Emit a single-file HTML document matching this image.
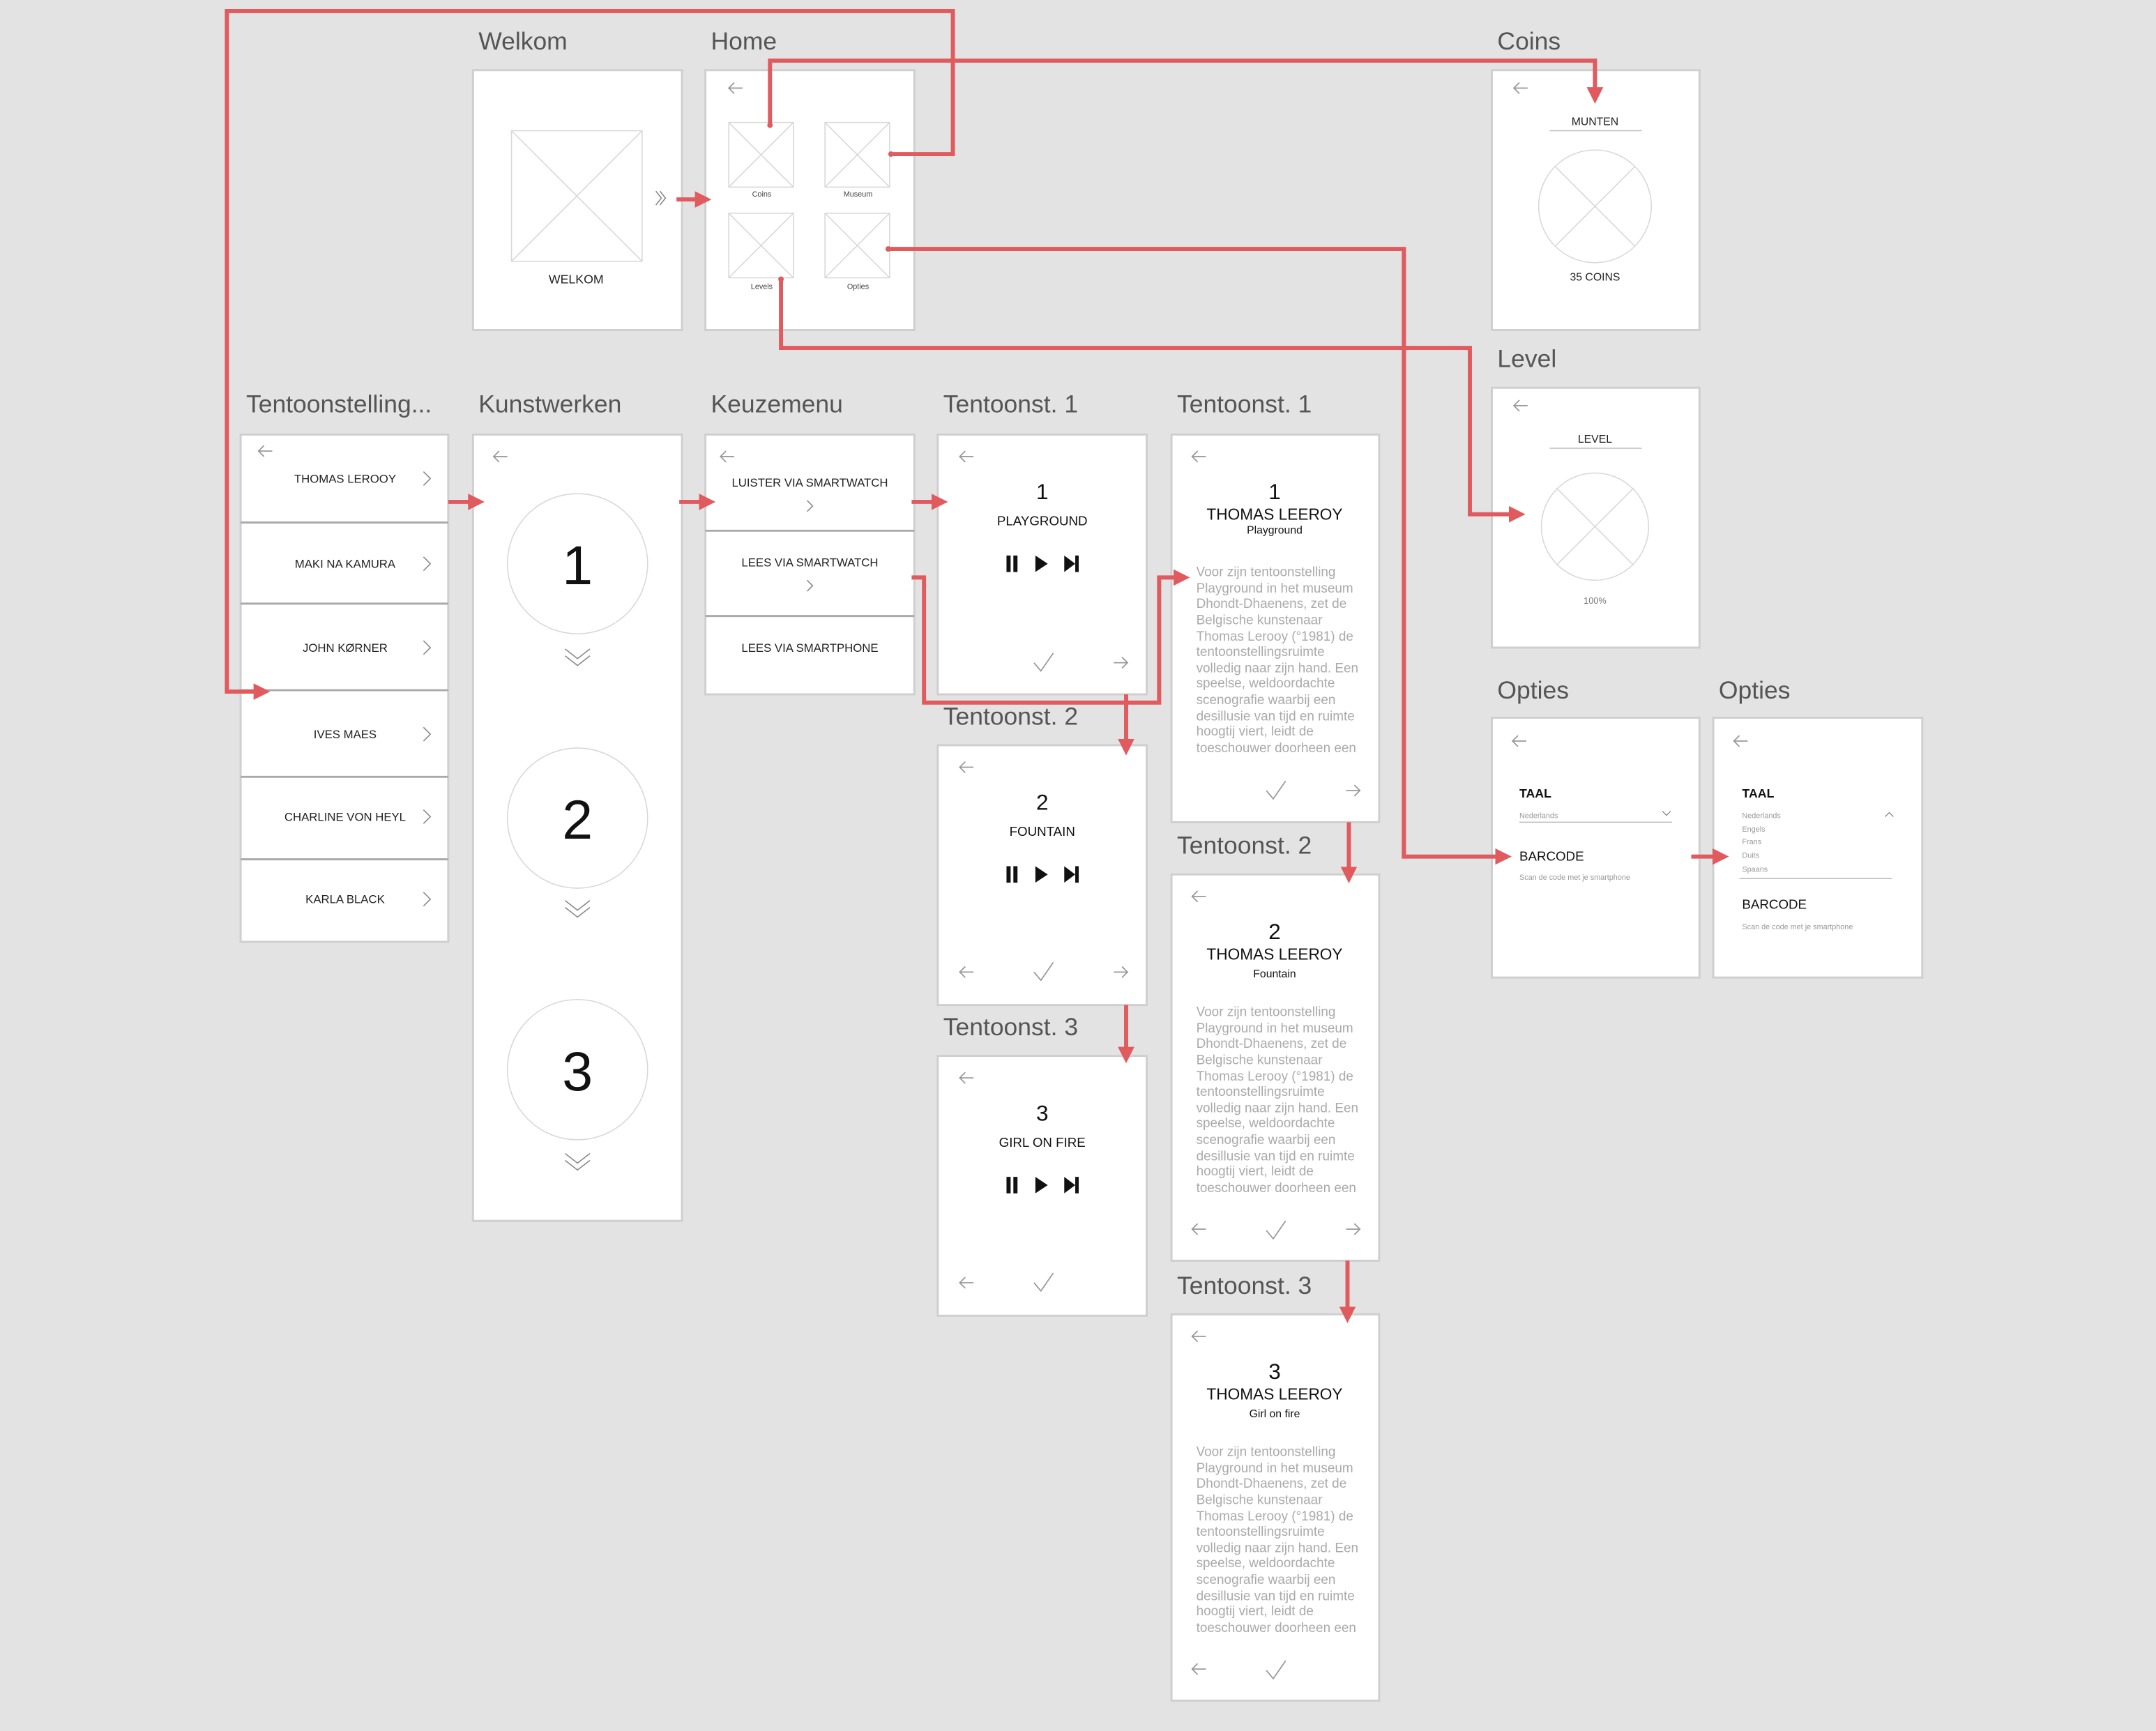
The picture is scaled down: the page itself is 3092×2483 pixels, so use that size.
<!DOCTYPE html>
<html><head><meta charset="utf-8"><style>
html,body{margin:0;padding:0;background:#e3e3e3;}
svg{display:block}
text{font-family:"Liberation Sans",sans-serif;}
</style></head><body>
<svg width="3092" height="2483" viewBox="0 0 1568 1259" xmlns="http://www.w3.org/2000/svg">
<defs>
<marker id="ah" markerWidth="4" markerHeight="4" refX="2.2" refY="2" orient="auto" markerUnits="strokeWidth">
<path d="M0,0 L4,2 L0,4 z" fill="#e05a5e"/></marker>
</defs>
<rect width="1568" height="1259" fill="#e3e3e3"/>

<!-- titles -->
<g font-size="18" fill="#555">
<text x="348" y="36">Welkom</text>
<text x="517" y="36">Home</text>
<text x="1089" y="36">Coins</text>
<text x="1089" y="267">Level</text>
<text x="1089" y="508">Opties</text>
<text x="1250" y="508">Opties</text>
<text x="179" y="300">Tentoonstelling...</text>
<text x="348" y="300">Kunstwerken</text>
<text x="517" y="300">Keuzemenu</text>
<text x="686" y="300">Tentoonst. 1</text>
<text x="856" y="300">Tentoonst. 1</text>
<text x="686" y="527">Tentoonst. 2</text>
<text x="686" y="753">Tentoonst. 3</text>
<text x="856" y="621">Tentoonst. 2</text>
<text x="856" y="941">Tentoonst. 3</text>
</g>

<!-- frames -->
<g fill="#fff" stroke="#cfcfcf" stroke-width="1.5">
<rect x="344" y="51" width="152" height="189"/>
<rect x="513" y="51" width="152" height="189"/>
<rect x="1085" y="51" width="151" height="189"/>
<rect x="1085" y="282" width="151" height="189"/>
<rect x="1085" y="522" width="151" height="189"/>
<rect x="1246" y="522" width="152" height="189"/>
<rect x="175" y="316" width="151" height="369"/>
<rect x="344" y="316" width="152" height="572"/>
<rect x="513" y="316" width="152" height="189"/>
<rect x="682" y="316" width="152" height="189"/>
<rect x="682" y="542" width="152" height="189"/>
<rect x="682" y="768" width="152" height="189"/>
<rect x="852" y="316" width="151" height="282"/>
<rect x="852" y="636" width="151" height="281"/>
<rect x="852" y="956" width="151" height="281"/>
</g>

<!-- back arrows -->
<g stroke="#999" stroke-width="0.9" fill="none">
<path d="M530 64h10M534 60l-4 4 4 4"/>
<path d="M1101 64h10M1105 60l-4 4 4 4"/>
<path d="M1101 295h10M1105 291l-4 4 4 4"/>
<path d="M1100 539h10M1104 535l-4 4 4 4"/>
<path d="M1261 539h10M1265 535l-4 4 4 4"/>
<path d="M188 328h10M192 324l-4 4 4 4"/>
<path d="M359 332h10M363 328l-4 4 4 4"/>
<path d="M524 332h10M528 328l-4 4 4 4"/>
<path d="M698 332h10M702 328l-4 4 4 4"/>
<path d="M698 558h10M702 554l-4 4 4 4"/>
<path d="M698 784h10M702 780l-4 4 4 4"/>
<path d="M867 332h10M871 328l-4 4 4 4"/>
<path d="M867 652h10M871 648l-4 4 4 4"/>
<path d="M867 972h10M871 968l-4 4 4 4"/>
<!-- left bottom arrows -->
<path d="M698 707h10M702 703l-4 4 4 4"/>
<path d="M698 933h10M702 929l-4 4 4 4"/>
<path d="M867 894h10M871 890l-4 4 4 4"/>
<path d="M867 1214h10M871 1210l-4 4 4 4"/>
<!-- right bottom arrows -->
<path d="M810 482h10M816 478l4 4-4 4"/>
<path d="M810 707h10M816 703l4 4-4 4"/>
<path d="M979 575h10M985 571l4 4-4 4"/>
<path d="M979 894h10M985 890l4 4-4 4"/>
<!-- checks -->
<path d="M752 482l5 6 9-13"/>
<path d="M752 707l5 6 9-13"/>
<path d="M752 933l5 6 9-13"/>
<path d="M921 575l5 6 9-13"/>
<path d="M921 895l5 6 9-13"/>
<path d="M921 1215l5 6 9-13"/>
</g>

<!-- Welkom -->
<g stroke="#d8d8d8" stroke-width="0.8" fill="none">
<rect x="372" y="95" width="95" height="95"/><path d="M372 95L467 190M467 95L372 190"/>
<rect x="530" y="89" width="47" height="47"/><path d="M530 89l47 47M577 89l-47 47"/>
<rect x="600" y="89" width="47" height="47"/><path d="M600 89l47 47M647 89l-47 47"/>
<rect x="530" y="155" width="47" height="47"/><path d="M530 155l47 47M577 155l-47 47"/>
<rect x="600" y="155" width="47" height="47"/><path d="M600 155l47 47M647 155l-47 47"/>
<circle cx="1160" cy="150" r="41"/><path d="M1131 121l58 58M1189 121l-58 58"/>
<circle cx="1160" cy="383" r="39"/><path d="M1132 355l56 56M1188 355l-56 56"/>
<circle cx="420" cy="410" r="51"/><circle cx="420" cy="595" r="51"/><circle cx="420" cy="778" r="51"/>
</g>
<path d="M477 139l4 5-4 5M480 139l4 5-4 5" stroke="#888" stroke-width="0.8" fill="none"/>
<text x="419" y="206" font-size="9" text-anchor="middle" fill="#222">WELKOM</text>
<g font-size="5.5" fill="#444" text-anchor="middle">
<text x="554" y="143">Coins</text><text x="624" y="143">Museum</text>
<text x="554" y="210">Levels</text><text x="624" y="210">Opties</text>
</g>

<!-- Coins / Level -->
<g font-size="8" fill="#222" text-anchor="middle">
<text x="1160" y="91">MUNTEN</text><text x="1160" y="204">35 COINS</text>
<text x="1160" y="322">LEVEL</text>
</g>
<text x="1160" y="439" font-size="6.5" fill="#777" text-anchor="middle">100%</text>
<path d="M1127 95h67M1127 326h67" stroke="#bbb" stroke-width="0.8"/>

<!-- Opties -->
<g font-family="Liberation Sans" fill="#111">
<text x="1105" y="580" font-size="9" font-weight="bold">TAAL</text>
<text x="1105" y="626" font-size="9.5">BARCODE</text>
<text x="1267" y="580" font-size="9" font-weight="bold">TAAL</text>
<text x="1267" y="661" font-size="9.5">BARCODE</text>
</g>
<g font-size="5.5" fill="#999">
<text x="1105" y="595">Nederlands</text>
<text x="1105" y="640">Scan de code met je smartphone</text>
<text x="1267" y="595">Nederlands</text><text x="1267" y="605">Engels</text>
<text x="1267" y="614">Frans</text><text x="1267" y="624">Duits</text><text x="1267" y="634">Spaans</text>
<text x="1267" y="676">Scan de code met je smartphone</text>
</g>
<path d="M1105 598h111M1265 639h111" stroke="#bbb" stroke-width="0.8"/>
<path d="M1209 590l3 3 3-3M1371 594l3-3 3 3" stroke="#777" stroke-width="0.6" fill="none"/>

<!-- list -->
<path d="M175 380h151M175 439h151M175 502h151M175 565h151M175 625h151" stroke="#aaa" stroke-width="1.5"/>
<g font-size="8.5" fill="#222" text-anchor="middle">
<text x="251" y="351">THOMAS LEROOY</text><text x="251" y="413">MAKI NA KAMURA</text>
<text x="251" y="474">JOHN KØRNER</text><text x="251" y="537">IVES MAES</text>
<text x="251" y="597">CHARLINE VON HEYL</text><text x="251" y="657">KARLA BLACK</text>
</g>
<g stroke="#888" stroke-width="0.8" fill="none">
<path d="M308 343l5 5-5 5M308 405l5 5-5 5M308 466l5 5-5 5M308 529l5 5-5 5M308 589l5 5-5 5M308 649l5 5-5 5"/>
<path d="M587 364l4 4-4 4M587 422l4 4-4 4"/>
<path d="M411 472l9 7 9-7M411 477l9 7 9-7M411 655l9 7 9-7M411 660l9 7 9-7M411 839l9 7 9-7M411 844l9 7 9-7"/>
</g>
<g font-size="40" fill="#111" text-anchor="middle">
<text x="420" y="425">1</text><text x="420" y="610">2</text><text x="420" y="793">3</text>
</g>

<!-- Keuzemenu -->
<path d="M513 386h152M513 448h152" stroke="#aaa" stroke-width="1.5"/>
<g font-size="8.5" fill="#222" text-anchor="middle">
<text x="589" y="354">LUISTER VIA SMARTWATCH</text>
<text x="589" y="412">LEES VIA SMARTWATCH</text>
<text x="589" y="474">LEES VIA SMARTPHONE</text>
</g>

<!-- audio screens -->
<g fill="#111" text-anchor="middle">
<text x="758" y="363" font-size="16">1</text><text x="758" y="382" font-size="9.5">PLAYGROUND</text>
<text x="758" y="589" font-size="16">2</text><text x="758" y="608" font-size="9.5">FOUNTAIN</text>
<text x="758" y="815" font-size="16">3</text><text x="758" y="834" font-size="9.5">GIRL ON FIRE</text>
</g>
<g fill="#111">
<g id="ctl">
<rect x="732" y="404" width="3" height="12"/><rect x="737" y="404" width="3" height="12"/>
<path d="M753 404l9 6-9 6z"/>
<path d="M774 404l8 6-8 6z"/><rect x="782" y="404" width="2.5" height="12"/>
</g>
<use href="#ctl" y="226"/><use href="#ctl" y="452"/>
</g>

<!-- text screens -->
<g fill="#111" text-anchor="middle">
<text x="927" y="363" font-size="16">1</text><text x="927" y="378" font-size="11.5">THOMAS LEEROY</text><text x="927" y="388" font-size="8">Playground</text>
<text x="927" y="683" font-size="16">2</text><text x="927" y="698" font-size="11.5">THOMAS LEEROY</text><text x="927" y="711" font-size="8">Fountain</text>
<text x="927" y="1003" font-size="16">3</text><text x="927" y="1018" font-size="11.5">THOMAS LEEROY</text><text x="927" y="1031" font-size="8">Girl on fire</text>
</g>
<g id="para" font-size="9.6" fill="#aaa">
<text x="870" y="419">Voor zijn tentoonstelling</text>
<text x="870" y="431">Playground in het museum</text>
<text x="870" y="442">Dhondt-Dhaenens, zet de</text>
<text x="870" y="454">Belgische kunstenaar</text>
<text x="870" y="466">Thomas Lerooy (°1981) de</text>
<text x="870" y="477">tentoonstellingsruimte</text>
<text x="870" y="489">volledig naar zijn hand. Een</text>
<text x="870" y="500">speelse, weldoordachte</text>
<text x="870" y="512">scenografie waarbij een</text>
<text x="870" y="524">desillusie van tijd en ruimte</text>
<text x="870" y="535">hoogtij viert, leidt de</text>
<text x="870" y="547">toeschouwer doorheen een</text>
</g>
<use href="#para" y="320"/><use href="#para" y="640"/>

<!-- connectors -->
<g stroke="#e05a5e" stroke-width="3" fill="none" stroke-linejoin="miter">
<path d="M492 145H512" marker-end="url(#ah)"/>
<path d="M560 90V44H1160V70" marker-end="url(#ah)"/>
<path d="M648 112H693V8H165V503H191" marker-end="url(#ah)"/>
<path d="M646 181H1021V623H1094" marker-end="url(#ah)"/>
<path d="M568 203V253H1069V374H1104" marker-end="url(#ah)"/>
<path d="M326 365H347" marker-end="url(#ah)"/>
<path d="M494 365H515" marker-end="url(#ah)"/>
<path d="M663 365H684" marker-end="url(#ah)"/>
<path d="M663 420H672V511H843V420H860" marker-end="url(#ah)"/>
<path d="M819 505V544" marker-end="url(#ah)"/>
<path d="M819 731V768" marker-end="url(#ah)"/>
<path d="M981 598V637" marker-end="url(#ah)"/>
<path d="M980 917V957" marker-end="url(#ah)"/>
<path d="M1230 623H1252" marker-end="url(#ah)"/>
</g>
<g fill="#e05a5e"><circle cx="560" cy="91" r="2"/><circle cx="648" cy="112" r="2"/><circle cx="646" cy="181" r="2"/><circle cx="568" cy="203" r="2"/></g>
</svg>
</body></html>
